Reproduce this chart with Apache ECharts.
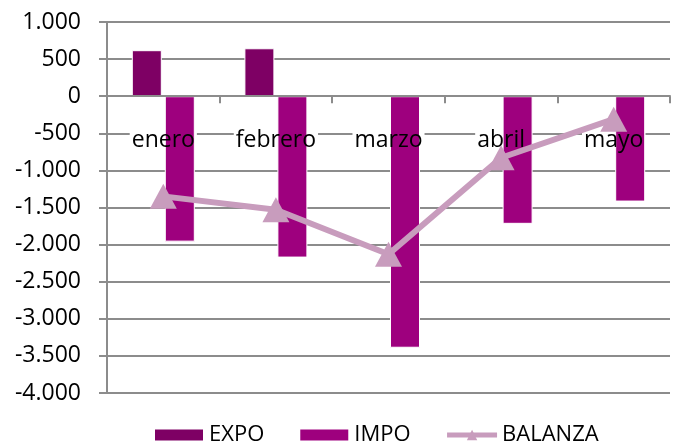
<!DOCTYPE html>
<html>
<head>
<meta charset="utf-8">
<script src="https://cdn.jsdelivr.net/npm/echarts@6/dist/echarts.min.js"></script>
<style>
  html, body { margin: 0; padding: 0; background: #fff; }
  #chart { width: 677px; height: 446px; }
</style>
</head>
<body>
<div id="chart"></div>
<script>
// Monthly trade figures
const months = ['enero', 'febrero', 'marzo', 'abril', 'mayo'];
const expo = [620, 646, null, null, null];
const impo = [-1960, -2175, -3390, -1720, -1420];
const balanza = [-1350, -1530, -2130, -830, -310];

const Y_MIN = -4000;
const Y_MAX = 1000;
const Y_STEP = 500;

const FONT = '"Open Sans", sans-serif';
const GRID_GRAY = '#8c8c8c';
const LINE_COLOR = '#c89cbd';

const GRID = { left: 107, right: 7, top: 22, bottom: 53 };
const CHART_H = 446;

function thousands(v) {
  const s = Math.abs(v).toString().replace(/\B(?=(\d{3})+(?!\d))/g, '.');
  return (v < 0 ? '-' : '') + s;
}

// Lift the category axis from the bottom edge of the grid up to the zero line.
const plotH = CHART_H - GRID.top - GRID.bottom;
const zeroOffset = -plotH * (0 - Y_MIN) / (Y_MAX - Y_MIN);

const labelBase = { margin: 33, fontFamily: FONT, fontSize: 23, interval: 0 };

const chart = echarts.init(document.getElementById('chart'), null, { renderer: 'canvas' });

chart.setOption({
  animation: false,
  backgroundColor: '#fff',
  textStyle: { fontFamily: FONT },
  grid: Object.assign({ containLabel: false }, GRID),
  legend: {
    left: 148,
    top: 419,
    itemWidth: 50,
    itemHeight: 13,
    itemGap: 34,
    textStyle: { fontFamily: FONT, fontSize: 22, color: '#000' },
    data: [
      { name: 'EXPO', icon: 'rect' },
      { name: 'IMPO', icon: 'rect' },
      { name: 'BALANZA', lineStyle: { width: 5 }, itemStyle: { color: LINE_COLOR } }
    ]
  },
  xAxis: [
    {
      // white band behind the month names, drawn under the bars
      type: 'category',
      data: months,
      position: 'bottom',
      offset: zeroOffset,
      z: 1,
      axisLine: { show: false, onZero: false },
      axisTick: { show: false },
      axisLabel: Object.assign({ color: '#fff', backgroundColor: '#fff', padding: [1, 2] }, labelBase),
      splitLine: { show: false }
    },
    {
      type: 'category',
      data: months,
      position: 'bottom',
      offset: zeroOffset,
      z: 5,
      axisLine: { onZero: false, lineStyle: { color: GRID_GRAY, width: 2 } },
      axisTick: { show: true, length: 7, inside: false, alignWithLabel: false, lineStyle: { color: GRID_GRAY, width: 2 } },
      axisLabel: Object.assign({ color: '#000' }, labelBase),
      splitLine: { show: false }
    }
  ],
  yAxis: {
    type: 'value',
    min: Y_MIN,
    max: Y_MAX,
    interval: Y_STEP,
    z: 0,
    axisLine: { show: true, lineStyle: { color: GRID_GRAY, width: 2 } },
    axisTick: { show: true, length: 8, lineStyle: { color: GRID_GRAY, width: 2 } },
    axisLabel: { margin: 26, fontFamily: FONT, fontSize: 23, color: '#000', formatter: thousands },
    splitLine: { show: true, lineStyle: { color: GRID_GRAY, width: 2 } }
  },
  series: [
    {
      name: 'EXPO',
      type: 'bar',
      xAxisIndex: 1,
      data: expo,
      barWidth: 30,
      barGap: '10%',
      z: 2,
      itemStyle: { color: '#7e0064', borderColor: '#fff', borderWidth: 1 }
    },
    {
      name: 'IMPO',
      type: 'bar',
      xAxisIndex: 1,
      data: impo,
      barWidth: 30,
      barGap: '10%',
      z: 2,
      itemStyle: { color: '#9e007e', borderColor: '#fff', borderWidth: 1 }
    },
    {
      name: 'BALANZA',
      type: 'line',
      xAxisIndex: 1,
      data: balanza,
      z: 6,
      symbol: 'triangle',
      symbolSize: [27, 25],
      lineStyle: { color: LINE_COLOR, width: 6 },
      itemStyle: { color: LINE_COLOR }
    }
  ]
});
</script>
</body>
</html>
